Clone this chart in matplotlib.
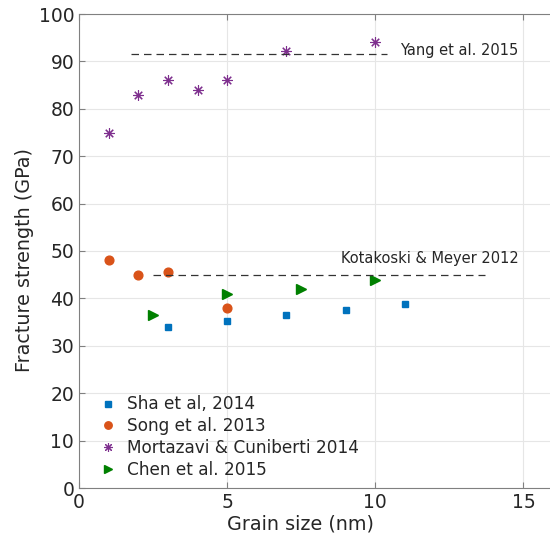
import matplotlib.pyplot as plt

# Grain size (nm) vs fracture strength (GPa) for the four studies
sha_x = [3, 5, 7, 9, 11]
sha_y = [34.0, 35.2, 36.5, 37.6, 38.8]

song_x = [1, 2, 3, 5]
song_y = [48.0, 45.0, 45.5, 37.9]

mortazavi_x = [1, 2, 3, 4, 5, 7, 10]
mortazavi_y = [75.0, 83.0, 86.1, 84.0, 86.1, 92.1, 94.0]

chen_x = [2.5, 5, 7.5, 10]
chen_y = [36.6, 41.0, 42.0, 43.9]

# Reference levels (dashed)
yang_x = [1.75, 10.4]
yang_y = [91.6, 91.6]
kotakoski_x = [2.5, 13.7]
kotakoski_y = [45.0, 45.0]

plt.rcParams['font.family'] = ['DejaVu Sans']
txt = '#262626'

fig = plt.figure(figsize=(5.5, 5.44), dpi=100)
ax = fig.add_axes([79 / 550, 56 / 544, 474 / 550, 474 / 544])

ax.plot(sha_x, sha_y, 's', color='#0072BD', ms=5, ls='none', label='Sha et al, 2014')
ax.plot(song_x, song_y, 'o', color='#D95319', ms=6.3, ls='none', label='Song et al. 2013')
ax.plot(mortazavi_x, mortazavi_y, color='#7E2F8E', ms=7.5, ls='none',
        marker=(8, 2, 0), mew=0.8, label='Mortazavi & Cuniberti 2014')
ax.plot(chen_x, chen_y, '>', color='#008000', ms=7, ls='none', label='Chen et al. 2015')

ax.plot(yang_x, yang_y, '--', color='#333333', lw=0.9, dashes=(6, 4))
ax.plot(kotakoski_x, kotakoski_y, '--', color='#333333', lw=0.9, dashes=(6, 4))
ax.text(10.85, 92.2, 'Yang et al. 2015', fontsize=10.5, color=txt, va='center')
ax.text(8.85, 48.4, 'Kotakoski & Meyer 2012', fontsize=10.5, color=txt, va='center')

ax.set_xlim(0, 16)
ax.set_ylim(0, 100)
ax.set_xticks([0, 5, 10, 15])
ax.set_yticks(range(0, 101, 10))
ax.grid(True, color='#e6e6e6', lw=0.8)
ax.set_axisbelow(True)
ax.tick_params(direction='in', length=4, color='#808080', labelsize=13.5,
               labelcolor=txt, top=True)
for s in ax.spines.values():
    s.set_color('#808080')
ax.spines['right'].set_visible(False)
ax.set_xlabel('Grain size (nm)', fontsize=13.8, color=txt)
ax.xaxis.set_label_coords(0.467, -0.055)
ax.set_ylabel('Fracture strength (GPa)', fontsize=13.8, color=txt)
ax.yaxis.set_label_coords(-0.095, 0.48)

ax.legend(loc='lower left', bbox_to_anchor=(0.013, 0.0), frameon=False,
          fontsize=12.2, handletextpad=0.3, handlelength=1.6, labelspacing=0.22,
          borderaxespad=0.15, markerscale=0.85, labelcolor=txt)

fig.savefig('out.png', dpi=100)
